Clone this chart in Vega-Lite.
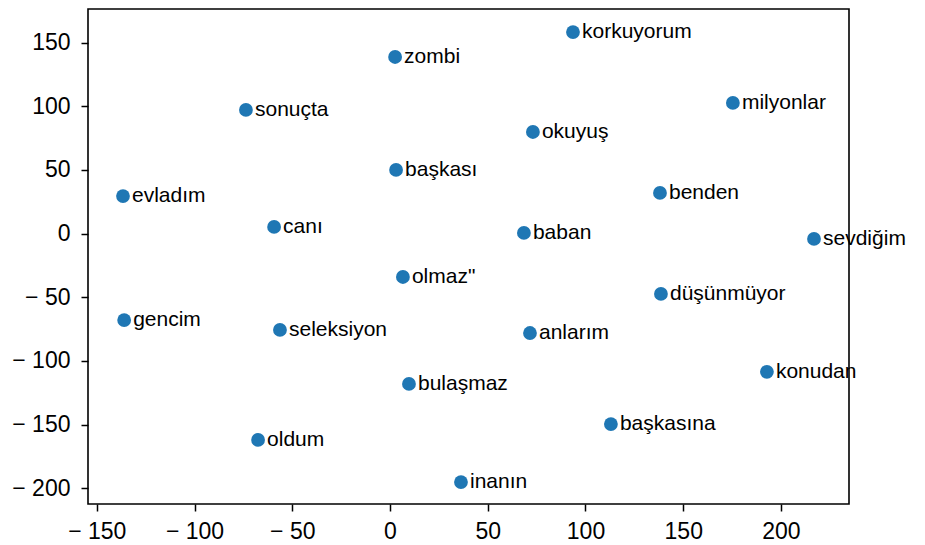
{
  "$schema": "https://vega.github.io/schema/vega-lite/v6.json",
  "width": 761,
  "height": 495,
  "autosize": "none",
  "padding": {"left": 88, "top": 9, "right": 76, "bottom": 41},
  "background": "white",
  "config": {
    "view": {"stroke": "black", "strokeWidth": 1.6},
    "axis": {"grid": false, "domain": false, "tickColor": "black", "tickWidth": 1.5, "tickSize": 7, "labelColor": "black", "labelFont": "Liberation Sans", "labelFontSize": 23, "title": null}
  },
  "data": {
    "values": [
      {"word": "korkuyorum", "x": 93.6, "y": 158.3},
      {"word": "zombi", "x": 2.6, "y": 138.7},
      {"word": "sonuçta", "x": -73.7, "y": 97.1},
      {"word": "milyonlar", "x": 175.4, "y": 102.6},
      {"word": "okuyuş", "x": 73.1, "y": 79.8},
      {"word": "başkası", "x": 3.1, "y": 50.0},
      {"word": "evladım", "x": -136.6, "y": 29.5},
      {"word": "benden", "x": 138.1, "y": 31.9},
      {"word": "canı", "x": -59.3, "y": 5.2},
      {"word": "baban", "x": 68.5, "y": 0.5},
      {"word": "sevdiğim", "x": 216.9, "y": -4.2},
      {"word": "olmaz\"", "x": 6.6, "y": -34.1},
      {"word": "düşünmüyor", "x": 138.6, "y": -47.4},
      {"word": "gencim", "x": -136.0, "y": -67.9},
      {"word": "seleksiyon", "x": -56.3, "y": -75.7},
      {"word": "anlarım", "x": 71.6, "y": -78.1},
      {"word": "konudan", "x": 192.8, "y": -108.6},
      {"word": "bulaşmaz", "x": 9.7, "y": -118.1},
      {"word": "başkasına", "x": 113.0, "y": -149.6},
      {"word": "oldum", "x": -67.5, "y": -162.1},
      {"word": "inanın", "x": 36.3, "y": -195.2}
    ]
  },
  "encoding": {
    "x": {"field": "x", "type": "quantitative", "scale": {"domain": [-154.5, 234.8], "nice": false, "zero": false},
      "axis": {"values": [-150, -100, -50, 0, 50, 100, 150, 200], "labelExpr": "datum.value < 0 ? '\u2212 ' + abs(datum.value) : datum.label", "labelFlush": false, "labelPadding": 9}},
    "y": {"field": "y", "type": "quantitative", "scale": {"domain": [-212.4, 176.4], "nice": false, "zero": false},
      "axis": {"values": [-200, -150, -100, -50, 0, 50, 100, 150], "labelExpr": "datum.value < 0 ? '\u2212 ' + abs(datum.value) : datum.label", "labelFlush": false, "labelPadding": 11}}
  },
  "layer": [
    {"mark": {"type": "point", "filled": true, "size": 190, "color": "#1f77b4", "opacity": 1}},
    {"mark": {"type": "text", "align": "left", "baseline": "middle", "dx": 9, "dy": 0, "fontSize": 21, "font": "Liberation Sans", "color": "black", "clip": false},
      "encoding": {"text": {"field": "word"}}}
  ]
}
